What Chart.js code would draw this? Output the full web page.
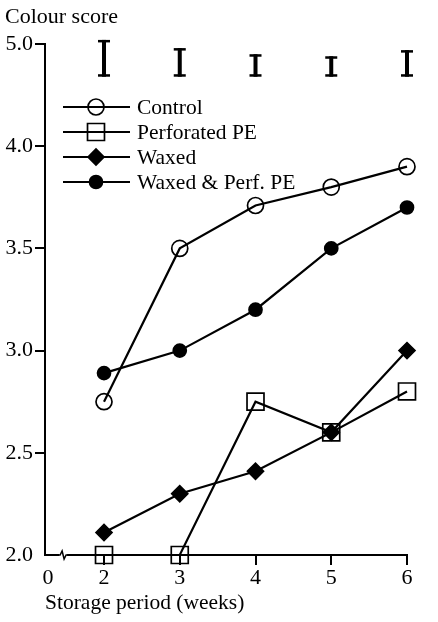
<!DOCTYPE html>
<html>
<head>
<meta charset="utf-8">
<title>Colour score</title>
<script src="https://cdn.jsdelivr.net/npm/chart.js@4.4.1/dist/chart.umd.min.js"></script>
<style>
  html, body { margin: 0; padding: 0; background: #fff; }
  #chart { display: block; }
</style>
</head>
<body>
<canvas id="chart" width="438" height="622"></canvas>
<script>
// data
var weeks = [2, 3, 4, 5, 6];
var seriesNames = ['Control', 'Perforated PE', 'Waxed', 'Waxed & Perf. PE'];
var control = [2.75, 3.50, 3.71, 3.80, 3.90];
var perforatedPE = [2.00, 2.00, 2.75, 2.60, 2.80];
var waxed = [2.11, 2.30, 2.41, 2.60, 3.00];
var waxedPerfPE = [2.89, 3.00, 3.20, 3.50, 3.70];
// LSD bars drawn along the top
var lsdBase = 4.34;
var lsd = [0.18, 0.14, 0.11, 0.10, 0.13];
// axis ticks (axis is broken, so the "0" sits just right of the y axis)
var xTickValues = [1.26, 2, 3, 4, 5, 6];
var xTickLabels = ['0', '2', '3', '4', '5', '6'];
var yTickValues = [2, 2.5, 3, 3.5, 4, 4.5];
var yTickLabels = ['2.0', '2.5', '3.0', '3.5', '4.0', '5.0'];

var FONT = 'Liberation Serif, Times New Roman, serif';
var INK = '#000';
var NONE = 'rgba(0,0,0,0)';

function pts(values) {
    return weeks.map(function (w, i) { return { x: w, y: values[i] }; });
}

function drawMarker(ctx, ds, x, y) {
    ctx.save();
    ctx.fillStyle = ds.pointBackgroundColor;
    ctx.strokeStyle = ds.pointBorderColor;
    ctx.lineWidth = ds.pointBorderWidth;
    if (Chart.helpers && Chart.helpers.drawPoint) {
        Chart.helpers.drawPoint(ctx, {
            pointStyle: ds.pointStyle, rotation: 0,
            radius: ds.pointRadius, borderWidth: ds.pointBorderWidth
        }, x, y);
    } else {
        ctx.beginPath();
        ctx.arc(x, y, ds.pointRadius, 0, Math.PI * 2);
        ctx.fill();
        ctx.stroke();
    }
    ctx.restore();
}

// legend, LSD bars, axis break and y caption
var extras = {
    id: 'extras',
    afterDraw: function (chart) {
        var ctx = chart.ctx;
        var xs = chart.scales.x, ys = chart.scales.y;

        ctx.save();
        ctx.fillStyle = INK;
        ctx.font = '22px ' + FONT;
        ctx.textBaseline = 'middle';
        ctx.textAlign = 'left';
        ctx.fillText('Colour score', 5, 17);

        // LSD I-bars
        ctx.strokeStyle = INK;
        ctx.fillStyle = INK;
        weeks.forEach(function (w, i) {
            var x = xs.getPixelForValue(w);
            var yb = ys.getPixelForValue(lsdBase);
            var yt = ys.getPixelForValue(lsdBase + lsd[i]);
            ctx.fillRect(x - 2, yt, 4, yb - yt);
            ctx.fillRect(x - 6, yt, 12, 2.5);
            ctx.fillRect(x - 6, yb - 2.5, 12, 2.5);
        });

        // break mark on the x axis
        var bx = xs.getPixelForValue(1.46);
        var by = xs.top;
        ctx.fillStyle = '#fff';
        ctx.fillRect(bx - 4, by - 3, 8, 6);
        ctx.strokeStyle = INK;
        ctx.lineWidth = 1.5;
        ctx.beginPath();
        ctx.moveTo(bx - 7, by);
        ctx.lineTo(bx - 3, by);
        ctx.lineTo(bx - 1, by - 4);
        ctx.lineTo(bx + 1, by + 4);
        ctx.lineTo(bx + 3, by);
        ctx.lineTo(bx + 7, by);
        ctx.stroke();

        // legend
        var x1 = 63, x2 = 130, xm = 96, y0 = 107, step = 25;
        chart.data.datasets.forEach(function (ds, i) {
            var y = y0 + i * step;
            ctx.strokeStyle = INK;
            ctx.lineWidth = 2;
            ctx.beginPath();
            ctx.moveTo(x1, y);
            ctx.lineTo(x2, y);
            ctx.stroke();
            drawMarker(ctx, ds, xm, y);
            ctx.fillStyle = INK;
            ctx.font = '21.5px ' + FONT;
            ctx.textBaseline = 'middle';
            ctx.fillText(ds.label, 137, y + 1);
        });
        ctx.restore();
    }
};

function series(label, values, style, radius, fill) {
    return {
        label: label,
        data: pts(values),
        borderColor: INK,
        borderWidth: 2.2,
        pointStyle: style,
        pointRadius: radius,
        pointBackgroundColor: fill,
        pointBorderColor: INK,
        pointBorderWidth: 1.7,
        clip: false,
        tension: 0
    };
}

var ctx = document.getElementById('chart');
var chart = new Chart(ctx, {
    type: 'line',
    data: {
        datasets: [
            series(seriesNames[0], control, 'circle', 8, NONE),
            series(seriesNames[1], perforatedPE, 'rect', 12, NONE),
            series(seriesNames[2], waxed, 'rectRot', 8, INK),
            series(seriesNames[3], waxedPerfPE, 'circle', 6.5, INK)
        ]
    },
    options: {
        responsive: false,
        animation: false,
        layout: { padding: { top: 44, right: 31, left: 0, bottom: 0 } },
        plugins: { legend: { display: false }, tooltip: { enabled: false }, title: { display: false } },
        scales: {
            x: {
                type: 'linear',
                min: 1.221,
                max: 6,
                afterBuildTicks: function (s) { s.ticks = xTickValues.map(function (v) { return { value: v }; }); },
                afterFit: function (s) { s.height = 67; },
                grid: {
                    drawOnChartArea: false,
                    drawTicks: true,
                    tickLength: 10,
                    lineWidth: 2,
                    color: function (c) { return c.tick && c.tick.value < 2 ? NONE : INK; }
                },
                border: { color: INK, width: 2 },
                ticks: {
                    color: INK,
                    font: { family: FONT, size: 22 },
                    padding: 0,
                    maxRotation: 0,
                    autoSkip: false,
                    callback: function (v, i) { return xTickLabels[i]; }
                },
                title: {
                    display: true,
                    text: 'Storage period (weeks)',
                    align: 'start',
                    color: INK,
                    font: { family: FONT, size: 21.5 },
                    padding: { top: 0, bottom: 6 }
                }
            },
            y: {
                type: 'linear',
                min: 2,
                max: 4.5,
                afterBuildTicks: function (s) { s.ticks = yTickValues.map(function (v) { return { value: v }; }); },
                afterFit: function (s) { s.width = 45; },
                grid: {
                    drawOnChartArea: false,
                    drawTicks: true,
                    tickLength: 10,
                    lineWidth: 2,
                    color: function (c) { return c.tick && c.tick.value === 2 ? NONE : INK; }
                },
                border: { color: INK, width: 2 },
                ticks: {
                    color: INK,
                    font: { family: FONT, size: 22 },
                    padding: 2,
                    autoSkip: false,
                    callback: function (v, i) { return yTickLabels[i]; }
                }
            }
        }
    },
    plugins: [extras]
});
</script>
</body>
</html>
